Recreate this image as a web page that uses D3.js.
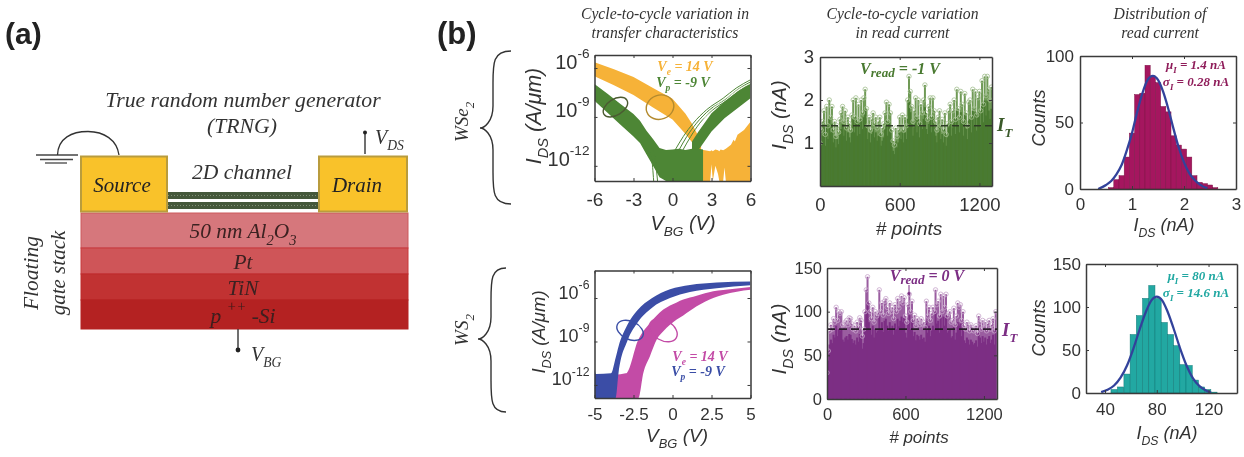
<!DOCTYPE html>
<html><head><meta charset="utf-8">
<style>html,body{margin:0;padding:0;background:#fff}svg{display:block}
.serif{font-family:"Liberation Serif",serif;font-style:italic}
.sans{font-family:"Liberation Sans",sans-serif}
</style>
<script src="https://cdn.jsdelivr.net/npm/d3@7"></script>
</head><body><svg id="c" width="1244" height="457"></svg>
<script>
// ---------- Transfer characteristics: WSe2 (log10 of A/um)
const wse2OrangeX   =[-6,-4.5,-3,-1.5,0,1,1.5,2.2];
const wse2OrangeTop =[-5.65,-6.08,-6.55,-7.22,-7.88,-8.8,-9.42,-10.5];
const wse2OrangeBot =[-6.5,-7.05,-7.65,-8.42,-9.15,-10.05,-10.55,-11.55];
const wse2FloorX    =[2.1,2.5,2.9,3.0,3.1,3.3,3.5,3.6,3.7,3.9,4.0,4.1,4.5,4.7,4.8,5,5.5,6];
const wse2FloorTop  =[-11.0,-11.05,-11.1,-11.05,-11.1,-11.0,-11.05,-11.1,-11.0,-11.05,-11.0,-10.95,-10.7,-10.4,-10.5,-10.1,-9.8,-9.3];
const wse2FloorBot  =[-12.93,-12.93,-12.93,-11.9,-12.93,-12.0,-12.5,-12.93,-12.93,-12.93,-12.1,-12.93,-12.93,-12.93,-12.93,-12.93,-12.93,-12.93];
const wse2GreenLX   =[-6,-5,-4,-3,-2.5,-2,-1.5,-1,-0.5,0,0.5,1,1.5,2,2.35];
const wse2GreenLTop =[-6.98,-7.58,-8.2,-8.82,-9.23,-9.85,-10.35,-10.9,-11.03,-11.0,-10.95,-11.03,-10.95,-10.95,-11.0];
const wse2GreenLBot =[-8.0,-8.75,-9.48,-10.2,-10.6,-11.3,-12.0,-12.7,-12.93,-12.93,-12.93,-12.93,-12.93,-12.93,-12.93];
const wse2GreenRX   =[1.5,2,3,4,5,6];
const wse2GreenRTop =[-10.5,-9.9,-8.77,-8.05,-7.44,-6.93];
const wse2GreenRBot =[-11.03,-11.03,-9.9,-9.08,-8.47,-7.85];
const wse2LineA=[[0.2,-11.03],[0.83,-10.2],[1.6,-9.38],[2.62,-8.56],[3.9,-7.85],[4.9,-7.23],[6,-6.72]];
const wse2LineB=[[0.5,-11.03],[1.1,-10.2],[1.85,-9.38],[2.85,-8.56],[4.1,-7.9],[5,-7.32],[6,-6.85]];
const wse2LineC=[[0.8,-11.03],[1.4,-10.2],[2.1,-9.38],[3.05,-8.6],[4.25,-7.95],[5.1,-7.42],[6,-7.0]];
const wse2LineW=[[2.4,-9.1],[3.2,-8.4],[4.3,-7.75],[5.2,-7.25],[6,-6.95]];
const wse2FringeA=[[-2,-10.9],[-1.6,-11.6],[-1.45,-12.93]];
const wse2FringeB=[[-1.6,-10.9],[-1.3,-11.8],[-1.15,-12.93]];
// ---------- Transfer characteristics: WS2
const ws2PinkX   =[-3.68,-3,-2.93,-2.19,-1.87,-1.44,-1.01,-0.59,0.27,0.69,1.55,2.61,3.25,5];
const ws2PinkTop =[-11.3,-11.2,-11.17,-8.87,-8.3,-7.72,-7.2,-6.8,-6.3,-6.11,-5.85,-5.54,-5.45,-5.24];
const ws2PinkBot =[-12.9,-12.9,-12.9,-12.9,-11.17,-10,-8.87,-8.3,-7.49,-7.2,-6.57,-6,-5.77,-5.43];
const ws2BlueX   =[-5,-4.9,-3.95,-3.64,-3.46,-2.89,-2.25,-1.33,-0.16,1.12,2.83,5];
const ws2BlueTop =[-10.9,-11.25,-11.2,-10.1,-9.35,-7.85,-6.85,-6.02,-5.4,-5.1,-4.93,-4.86];
const ws2BlueBot =[-12.9,-12.9,-12.9,-12.9,-11.17,-8.95,-7.7,-6.68,-6.0,-5.58,-5.32,-5.12];
// ---------- Read current series (one reading per 10 points)
const wse2Read=[1.0,1.3,1.5,1.75,1.2,1.85,1.4,2.0,1.6,1.85,1.3,1.5,1.15,1.4,1.25,1.55,1.7,1.85,1.5,1.75,
1.35,1.6,1.45,1.3,1.65,2.0,1.6,2.05,1.5,1.9,1.55,2.0,1.7,2.05,2.25,1.8,1.4,1.6,1.3,1.55,
1.7,1.45,1.6,1.35,1.5,1.6,1.2,1.35,1.45,1.7,1.95,1.5,1.9,1.7,1.3,1.05,0.95,1.35,1.15,1.3,
1.6,1.4,1.65,1.3,1.6,1.4,2.0,2.55,2.2,1.85,1.5,1.75,2.05,1.6,2.0,1.45,1.9,1.7,2.0,2.35,
1.7,1.55,1.85,2.05,1.6,2.05,1.75,1.5,1.3,1.6,1.75,1.4,1.55,1.3,1.7,1.2,1.45,1.75,1.9,1.5,
1.75,2.0,1.55,2.25,1.8,1.6,2.2,1.9,1.5,2.15,1.7,1.4,1.95,2.0,1.6,2.25,1.8,2.2,1.65,2.05,
2.2,1.75,2.45,1.9,2.55,2.1,2.55,2.25,2.0,2.3];
const ws2Read=[30,55,78,85,80,92,88,105,90,100,98,100,85,82,88,90,85,93,92,86,
80,84,78,88,82,93,90,72,80,100,125,140,110,100,92,105,88,100,95,98,
125,100,110,96,112,115,105,98,110,100,105,92,108,100,115,104,112,118,110,116,
95,88,108,120,100,112,90,96,84,92,90,85,92,86,88,82,112,95,105,90,
98,105,100,125,108,112,95,120,100,118,105,120,95,98,100,88,90,104,85,95,
110,105,108,90,100,84,80,88,85,78,85,82,78,80,84,75,95,88,80,90,
82,88,78,86,90,80,85,92,78,100];
const readStep=10;
const wse2Threshold=1.4, ws2Threshold=80;
// ---------- Histograms
const wse2HistCenters=[0.6,0.7,0.8,0.9,1.0,1.1,1.2,1.3,1.4,1.5,1.6,1.7,1.8,1.9,2.0,2.1,2.2,2.3,2.4,2.5,2.6];
const wse2HistCounts =[1,7,10,24,42,71,72,93,85,80,62,58,40,33,30,24,10,5,4,3,1];
const wse2FitX=[0.35,0.5,0.6,0.7,0.8,0.9,1.0,1.1,1.2,1.3,1.4,1.5,1.6,1.7,1.8,1.9,2.0,2.1,2.2,2.3,2.45];
const wse2FitY=[0,3,6,11,18,29,42,58,72,82,85,82,73,60,45,31,20,12,7,3.5,0.5];
const ws2HistCenters=[47,52,57,61.8,66.6,71.4,76.2,81,85.8,90.6,95.4,100.2,105,109.8,114.6,119.4,124.2];
const ws2HistCounts =[4,7,22,68,90,110,125,110,82,68,55,33,32,15,7,4,1];
const ws2FitX=[37,42,47,52,57,62,67,72,76,80,84,88,93,98,103,108,113,118,122];
const ws2FitY=[1,3.8,8.7,17.8,32,52,75,96,108,112,108,96,75,52,32,17,8,3,0.5];
// ---------- Tick labels
const wse2TransferXTicks=[-6,-3,0,3,6];
const ws2TransferXTicks=[-5,-2.5,0,2.5,5];
const transferYTicks=[-6,-9,-12];
const wse2ReadYTicks=[1,2,3], ws2ReadYTicks=[0,50,100,150];
const wse2ReadXTicks=[0,600,1200], ws2ReadXTicks=[0,600,1200];
const wse2HistXTicks=[0,1,2,3], wse2HistYTicks=[0,50,100];
const ws2HistXTicks=[40,80,120], ws2HistYTicks=[0,50,100,150];
// ---------- Device stack
const stackNames=["50 nm Al2O3","Pt","TiN","p++-Si"];
const stackThickness=[35,26,26,29];
const stackColors=["#d6777b","#cf5558","#c13232","#b42020"];
const stackEdges=["#cc5a5e","#c8393d","#bd2c2c","#b42020"];

const C={orange:"#f6b238",green:"#4e8636",pink:"#c34ba6",blue:"#3a4ea6",dgreen:"#4a7a30",purple:"#7c2e84",
  magenta:"#a5175f",teal:"#20a8a2",fit:"#33439b",ink:"#333"};
const svg=d3.select("#c");
const defs=svg.append("defs");
const f=defs.append("filter").attr("id","soft").attr("x","0").attr("y","0").attr("width","100%").attr("height","100%")
 .attr("filterUnits","userSpaceOnUse");
f.append("feGaussianBlur").attr("stdDeviation",0.5);
const root=svg.append("g").attr("filter","url(#soft)");
root.append("rect").attr("width",1244).attr("height",457).attr("fill","#fff");

function rich(sel,parts){
  let shift=0;
  parts.forEach(([t,k])=>{
    const target=k==="sub"?0.32:k==="sup"?-0.55:k==="low"?0.2:0;
    const fs=k==="low"?0.82:k?0.68:1;
    const base=parseFloat(sel.attr("font-size"));
    sel.append("tspan").attr("dy",(target-shift)*base).attr("font-size",base*fs).text(t);
    shift=target;
  });
  return sel;
}
function label(x,y,parts,o={}){
  const t=root.append("text").attr("x",x).attr("y",y).attr("class",o.cls||"serif")
    .attr("font-size",o.size||14).attr("fill",o.fill||C.ink).attr("text-anchor",o.anchor||"middle");
  if(o.weight)t.attr("font-weight",o.weight);
  if(o.rot)t.attr("transform",`rotate(${o.rot} ${x} ${y})`);
  rich(t,typeof parts==="string"?[[parts]]:parts);
  return t;
}
let clipId=0;
function frame(b,xd,yd){
  const x=d3.scaleLinear().domain(xd).range([b.l,b.r]);
  const y=d3.scaleLinear().domain(yd).range([b.b,b.t]);
  const id="clip"+(clipId++);
  defs.append("clipPath").attr("id",id).append("rect").attr("x",b.l).attr("y",b.t).attr("width",b.r-b.l).attr("height",b.b-b.t);
  const g=root.append("g").attr("clip-path",`url(#${id})`);
  return {x,y,g,b};
}
function axes(p,xt,yt,o={}){
  const {x,y,b}=p, fs=o.fs||17, yfs=o.yfs||fs;
  const sty=(a,s)=>{a.selectAll("path").attr("stroke","#3a3a3a").attr("stroke-width",1.5);
    a.selectAll("line").attr("stroke","#3a3a3a").attr("stroke-width",1);
    a.selectAll("text").attr("font-family",'"Liberation Sans",sans-serif').attr("font-size",s).attr("fill",C.ink);};
  const ax=root.append("g").attr("transform",`translate(0,${b.b})`).call(d3.axisBottom(x).tickValues(xt).tickSizeInner(-3).tickSizeOuter(0).tickPadding(o.xpad||8).tickFormat(o.xf||(d=>d)));
  const ay=root.append("g").attr("transform",`translate(${b.l},0)`).call(d3.axisLeft(y).tickValues(yt).tickSizeInner(-3).tickSizeOuter(0).tickPadding(o.ypad||6).tickFormat(o.log?"":(d=>d)));
  sty(ax,fs);sty(ay,yfs);
  if(o.log){
    ay.selectAll(".tick text").each(function(d){
      const t=d3.select(this).attr("font-size",yfs).attr("dy",o.logDy||0);
      rich(t,[["10"],[String(d),"sup"]]);
    });
  }
  const at=root.append("g").attr("transform",`translate(0,${b.t})`).call(d3.axisTop(x).tickValues(xt).tickSizeInner(-3).tickSizeOuter(0).tickFormat(""));
  const ar=root.append("g").attr("transform",`translate(${b.r},0)`).call(d3.axisRight(y).tickValues(yt).tickSizeInner(-3).tickSizeOuter(0).tickFormat(""));
  sty(at,fs);sty(ar,fs);
}
const zip=(X,A,B)=>X.map((v,i)=>({x:v,t:A[i],b:B[i]}));
function band(p,X,A,B,fill,curve){
  p.g.append("path").datum(zip(X,A,B)).attr("fill",fill)
   .attr("d",d3.area().x(d=>p.x(d.x)).y0(d=>p.y(d.b)).y1(d=>p.y(d.t)).curve(curve||d3.curveLinear));
}
function curve(p,pts,stroke,w){
  p.g.append("path").datum(pts).attr("fill","none").attr("stroke",stroke).attr("stroke-width",w)
   .attr("d",d3.line().x(d=>p.x(d[0])).y(d=>p.y(d[1])).curve(d3.curveMonotoneX));
}
function ring(p,cx,cy,rx,ry,rot,stroke){
  root.append("ellipse").attr("cx",0).attr("cy",0).attr("rx",rx).attr("ry",ry).attr("fill","none")
   .attr("stroke",stroke).attr("stroke-width",1.4)
   .attr("transform",`translate(${p.x(cx)},${p.y(cy)}) rotate(${rot})`);
}

// ========== (a) schematic ==========
label(5,44,"(a)",{cls:"sans",anchor:"start",size:30,weight:"bold",fill:"#222"}).attr("font-family",'"Open Sans",sans-serif');
label(437,44,"(b)",{cls:"sans",anchor:"start",size:31,weight:"bold",fill:"#222"}).attr("font-family",'"Open Sans",sans-serif');
label(243,107,"True random number generator",{size:21.7});
label(242,133,"(TRNG)",{size:21.7});
label(242,179,"2D channel",{size:21.6});
const stackY=d3.scaleLinear().domain([0,d3.sum(stackThickness)]).range([213,329]);
let acc=0;
stackNames.forEach((n,i)=>{
  root.append("rect").attr("x",81).attr("width",327).attr("y",stackY(acc)).attr("height",stackY(acc+stackThickness[i])-stackY(acc))
   .attr("fill",stackColors[i]).attr("stroke",stackEdges[i]).attr("stroke-width",1);
  acc+=stackThickness[i];
});
const tx={size:21.4,fill:"#3a2020"};
label(243,238,[["50 nm Al"],["2","sub"],["O"],["3","sub"]],tx);
label(243,269,"Pt",tx);
label(243,295,"TiN",tx);
label(243,323,[["p "],["++","sup"],[" -Si"]],tx);
[192,202].forEach(y=>{
  root.append("rect").attr("x",168).attr("y",y).attr("width",150).attr("height",7).attr("fill","#44583a");
  root.append("line").attr("x1",168).attr("x2",318).attr("y1",y+3.5).attr("y2",y+3.5).attr("stroke","#7f8f74").attr("stroke-width",1).attr("stroke-dasharray","1 2");
});
root.append("rect").attr("x",81).attr("y",156.5).attr("width",86).attr("height",55).attr("fill","#f9c22c").attr("stroke","#b99c3c").attr("stroke-width",2);
root.append("rect").attr("x",319).attr("y",156.5).attr("width",88).attr("height",55).attr("fill","#f9c22c").attr("stroke","#b99c3c").attr("stroke-width",2);
label(122,192,"Source",{size:21,fill:"#222"});
label(357,192,"Drain",{size:21,fill:"#222"});
[[36,78,155],[40,73,159.5],[45,67,163]].forEach(([a,b,y])=>root.append("line").attr("x1",a).attr("x2",b).attr("y1",y).attr("y2",y).attr("stroke","#444").attr("stroke-width",1.3));
root.append("path").attr("d","M57.5 155 C58 138 72 131.5 88 131.5 C104 131.5 117 140 119 155").attr("fill","none").attr("stroke","#333").attr("stroke-width",1.3);
root.append("line").attr("x1",365).attr("x2",365).attr("y1",154).attr("y2",132).attr("stroke","#333").attr("stroke-width",1.4);
root.append("circle").attr("cx",365).attr("cy",132.5).attr("r",2).attr("fill","#222");
label(375,144,[["V"],["DS","sub"]],{size:20,anchor:"start"});
root.append("line").attr("x1",238).attr("x2",238).attr("y1",329).attr("y2",350).attr("stroke","#333").attr("stroke-width",1.4);
root.append("circle").attr("cx",238).attr("cy",350).attr("r",2.4).attr("fill","#222");
label(251,361,[["V"],["BG","sub"]],{size:20,anchor:"start"});
label(38,273,"Floating",{size:21.5,rot:-90});
label(65,273,"gate stack",{size:21,rot:-90});

// ========== column titles ==========
const ct={size:15.7};
label(665,19,"Cycle-to-cycle variation in",ct);
label(665,38,"transfer characteristics",ct);
label(902.5,19,"Cycle-to-cycle variation",ct);
label(902.5,38,"in read current",ct);
label(1160,19,"Distribution of",ct);
label(1160,38,"read current",ct);

// ========== braces + material labels ==========
const brace=(x0,x1,tip,top,mid,bot)=>root.append("path").attr("fill","none").attr("stroke","#333").attr("stroke-width",1.4)
 .attr("d",`M${x0} ${top} C${x1} ${top} ${x1} ${top+12} ${x1} ${top+32} L${x1} ${mid-22} C${x1} ${mid-6} ${tip+4} ${mid} ${tip} ${mid} C${tip+4} ${mid} ${x1} ${mid+6} ${x1} ${mid+22} L${x1} ${bot-32} C${x1} ${bot-12} ${x1} ${bot} ${x0} ${bot}`);
brace(511,493,480,51,128,204);
brace(506,491,478,268,339,412);
label(468,122,[["WSe"],["2","sub"]],{size:19,rot:-90});
label(468,330,[["WS"],["2","sub"]],{size:19,rot:-90});

// ========== transfer WSe2 ==========
const p1=frame({l:594.5,r:750.5,t:55,b:181},[-6,6],[-12.93,-5.2]);
band(p1,wse2OrangeX,wse2OrangeTop,wse2OrangeBot,C.orange);
band(p1,wse2FloorX,wse2FloorTop,wse2FloorBot,C.orange);
band(p1,wse2GreenRX,wse2GreenRTop,wse2GreenRBot,C.green);
band(p1,wse2GreenLX,wse2GreenLTop,wse2GreenLBot,C.green);
[wse2LineA,wse2LineB,wse2LineC,wse2FringeA,wse2FringeB].forEach(l=>curve(p1,l,C.green,1));
curve(p1,wse2LineW,"#e8f0dc",0.8);
axes(p1,wse2TransferXTicks,transferYTicks,{log:true,fs:19,yfs:20,xpad:12,ypad:5,logDy:13});
ring(p1,-4.39,-8.4,13.5,8,-32,"#4b5a30");
ring(p1,-0.96,-8.4,14,12,-20,"#b38a2e");
label(685,71,[["V"],["e","sub"],[" = 14 V"]],{size:14,weight:"bold",fill:C.orange});
label(683,87,[["V"],["p","sub"],[" = -9 V"]],{size:14,weight:"bold",fill:C.green});
label(683,230,[["V"],["BG","sub"],[" (V)"]],{cls:"sans",size:20}).attr("font-style","italic");
label(541,116,[["I"],["DS","sub"],[" (A/μm)"]],{cls:"sans",size:21.5,rot:-90}).attr("font-style","italic");

// ========== transfer WS2 ==========
const p2=frame({l:594.5,r:750.5,t:270.5,b:398},[-5,5],[-12.9,-4.1]);
band(p2,ws2PinkX,ws2PinkTop,ws2PinkBot,C.pink,d3.curveMonotoneX);
band(p2,ws2BlueX,ws2BlueTop,ws2BlueBot,C.blue,d3.curveMonotoneX);
axes(p2,ws2TransferXTicks,transferYTicks,{log:true,fs:17,yfs:18,xpad:10,ypad:5,logDy:11});
ring(p2,-2.72,-8.23,14,9,25,"#3a4ea6");
ring(p2,-0.59,-8.23,15,10,30,"#c34ba6");
label(700,361,[["V"],["e","sub"],[" = 14 V"]],{size:14,weight:"bold",fill:C.pink});
label(698,376,[["V"],["p","sub"],[" = -9 V"]],{size:14,weight:"bold",fill:C.blue});
label(677,442,[["V"],["BG","sub"],[" (V)"]],{cls:"sans",size:19}).attr("font-style","italic");
label(545,332,[["I"],["DS","sub"],[" (A/μm)"]],{cls:"sans",size:18.5,rot:-90}).attr("font-style","italic");

// ========== read current ==========
function stems(p,vals,col,light,ring,solid){
  const pts=vals.map((v,i)=>[i*readStep,v]);
  const draw=(c,h)=>p.g.selectAll(null).data(pts).join("line").attr("x1",d=>p.x(d[0])).attr("x2",d=>p.x(d[0]))
   .attr("y1",p.y(0)).attr("y2",d=>p.y(h(d[1]))).attr("stroke",c).attr("stroke-width",2);
  draw(light,v=>v);
  draw(col,v=>v*solid);
  p.g.selectAll(null).data(pts).join("circle").attr("cx",d=>p.x(d[0])).attr("cy",d=>p.y(d[1])).attr("r",2.2)
   .attr("fill","none").attr("stroke",ring).attr("stroke-width",0.8);
}
const p3=frame({l:820,r:992,t:57,b:186},[0,1295],[0,3]);
stems(p3,wse2Read,C.dgreen,"#6f9a57","#a3bf90",0.78);
p3.g.append("line").attr("x1",p3.x(0)).attr("x2",p3.x(1295)).attr("y1",p3.y(wse2Threshold)).attr("y2",p3.y(wse2Threshold)).attr("stroke","#2f3b26").attr("stroke-width",1.6).attr("stroke-dasharray","7 4");
axes(p3,wse2ReadXTicks,wse2ReadYTicks,{fs:18.5,xpad:12,ypad:6});
label(900,74,[["V"],["read","low"],[" = -1 V"]],{size:16,weight:"bold",fill:C.dgreen});
label(997,131,[["I"],["T","sub"]],{size:19,weight:"bold",anchor:"start",fill:"#3b5a2b"});
label(909,235,"# points",{cls:"sans",size:19}).attr("font-style","italic");
label(786,115,[["I"],["DS","sub"],[" (nA)"]],{cls:"sans",size:20.5,rot:-90}).attr("font-style","italic");

const p4=frame({l:827,r:997,t:268,b:399},[0,1300],[0,150]);
stems(p4,ws2Read,C.purple,"#9a5da0","#c8a6cc",0.8);
p4.g.append("line").attr("x1",p4.x(0)).attr("x2",p4.x(1300)).attr("y1",p4.y(ws2Threshold)).attr("y2",p4.y(ws2Threshold)).attr("stroke","#2a1a2c").attr("stroke-width",1.6).attr("stroke-dasharray","8 4");
axes(p4,ws2ReadXTicks,ws2ReadYTicks,{fs:16.5,xpad:9,ypad:5});
label(927,281,[["V"],["read","low"],[" = 0 V"]],{size:16,weight:"bold",fill:C.purple});
root.append("line").attr("x1",909).attr("x2",909).attr("y1",285).attr("y2",293).attr("stroke",C.purple).attr("stroke-width",1);
root.append("circle").attr("cx",909).attr("cy",293.5).attr("r",1.5).attr("fill",C.purple);
label(1002,336,[["I"],["T","sub"]],{size:19,weight:"bold",anchor:"start",fill:C.purple});
label(919,443,"# points",{cls:"sans",size:17}).attr("font-style","italic");
label(786,339,[["I"],["DS","sub"],[" (nA)"]],{cls:"sans",size:21,rot:-90}).attr("font-style","italic");

// ========== histograms ==========
function hist(p,cs,vals,w,col,edge){
  p.g.selectAll(null).data(cs.map((c,i)=>[c,vals[i]])).join("rect")
   .attr("x",d=>p.x(d[0]-w/2)).attr("width",p.x(w)-p.x(0))
   .attr("y",d=>p.y(d[1])).attr("height",d=>p.y(0)-p.y(d[1]))
   .attr("fill",col).attr("stroke",edge).attr("stroke-width",0.5);
}
function fit(p,X,Y){
  p.g.append("path").datum(X.map((v,i)=>[v,Y[i]])).attr("fill","none").attr("stroke",C.fit).attr("stroke-width",2.3)
   .attr("d",d3.line().x(d=>p.x(d[0])).y(d=>p.y(d[1])).curve(d3.curveMonotoneX));
}
const p5=frame({l:1080,r:1236,t:56,b:189},[0,3],[0,100]);
hist(p5,wse2HistCenters,wse2HistCounts,0.1,C.magenta,"#7d1246");
fit(p5,wse2FitX,wse2FitY);
axes(p5,wse2HistXTicks,wse2HistYTicks,{fs:17,xpad:9,ypad:6});
label(1196,69,[["μ"],["I","sub"],[" = 1.4 nA"]],{size:13,weight:"bold",fill:"#8f1d5a"});
label(1196,86,[["σ"],["I","sub"],[" = 0.28 nA"]],{size:13,weight:"bold",fill:"#8f1d5a"});
label(1164,231,[["I"],["DS","sub"],[" (nA)"]],{cls:"sans",size:18}).attr("font-style","italic");
label(1045,118,"Counts",{cls:"sans",size:18,rot:-90}).attr("font-style","italic");

const p6=frame({l:1086,r:1237,t:264,b:393},[25.3,142],[0,150]);
hist(p6,ws2HistCenters,ws2HistCounts,4.8,C.teal,"#137a78");
fit(p6,ws2FitX,ws2FitY);
axes(p6,ws2HistXTicks,ws2HistYTicks,{fs:17,xpad:10,ypad:5});
label(1196,280,[["μ"],["I","sub"],[" = 80 nA"]],{size:13,weight:"bold",fill:C.teal});
label(1196,297,[["σ"],["I","sub"],[" = 14.6 nA"]],{size:13,weight:"bold",fill:C.teal});
label(1167,439,[["I"],["DS","sub"],[" (nA)"]],{cls:"sans",size:18}).attr("font-style","italic");
label(1045,328,"Counts",{cls:"sans",size:18,rot:-90}).attr("font-style","italic");
</script></body></html>
